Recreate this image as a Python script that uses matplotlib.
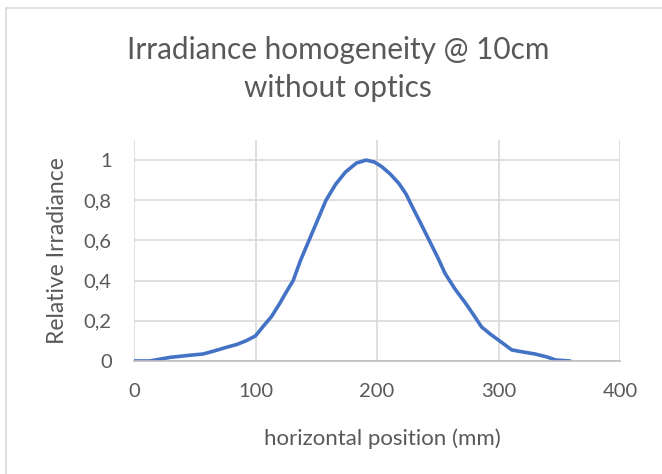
import matplotlib
matplotlib.use("Agg")
import matplotlib.pyplot as plt
from matplotlib.patches import Rectangle

# Data
position_mm = [0, 13, 29.5, 45, 57, 66, 76, 85, 92, 100, 106, 113, 120, 125, 131, 137, 144,
               151, 158, 166, 174, 183, 191, 198, 204, 211, 218, 224, 229, 236, 243, 250,
               256, 264, 273, 280, 286, 293, 300, 311, 320, 330, 340, 347, 359]
irradiance = [0, 0, 0.018, 0.028, 0.035, 0.05, 0.068, 0.083, 0.10, 0.125, 0.17, 0.22, 0.287,
              0.34, 0.40, 0.50, 0.60, 0.70, 0.80, 0.88, 0.94, 0.985, 1.0, 0.99, 0.967, 0.93,
              0.884, 0.83, 0.768, 0.685, 0.60, 0.515, 0.436, 0.36, 0.287, 0.225, 0.17, 0.135,
              0.104, 0.055, 0.045, 0.035, 0.02, 0.005, 0.0]
x_ticks = [0, 100, 200, 300, 400]
y_ticks = [0, 0.2, 0.4, 0.6, 0.8, 1.0]
y_tick_labels = ["0", "0,2", "0,4", "0,6", "0,8", "1"]

plt.rcParams['font.family'] = ['Lato', 'DejaVu Sans']
text_color = "#595959"
grid_color = "#D9D9D9"

W, H = 662, 474
fig = plt.figure(figsize=(W / 100, H / 100), dpi=100)
fig.patches.append(Rectangle((6 / W, -0.1), 1.2, 1 - 8 / H + 0.1, transform=fig.transFigure,
                             fill=False, edgecolor=grid_color, linewidth=1.2))

ax = fig.add_axes([134 / W, 1 - 361 / H, (620 - 134) / W, (361 - 140) / H])
ax.plot(position_mm, irradiance, color="#4472C4", linewidth=2.6,
        solid_capstyle='round', solid_joinstyle='round')

ax.set_xlim(0, 400)
ax.set_ylim(0, 1.1)
ax.set_xticks(x_ticks)
ax.set_xticklabels([str(t) for t in x_ticks])
ax.set_yticks(y_ticks)
ax.set_yticklabels(y_tick_labels)
ax.grid(True, color=grid_color, linewidth=1.2)
ax.set_axisbelow(True)
for side in ["top", "right", "left"]:
    ax.spines[side].set_visible(False)
ax.spines["bottom"].set_color("#BFBFBF")
ax.spines["bottom"].set_linewidth(1.2)
ax.tick_params(axis='both', length=0, labelsize=14.5, colors=text_color)
ax.tick_params(axis='x', pad=16)
ax.tick_params(axis='y', pad=16)

ax.set_xlabel("horizontal position (mm)", fontsize=16, color=text_color, labelpad=20)
ax.xaxis.label.set_x(0.512)
ax.set_ylabel("Relative Irradiance", fontsize=16.5, color=text_color, labelpad=11)

fig.text(338 / W, 1 - 50 / H, "Irradiance homogeneity @ 10cm", ha="center", va="center",
         fontsize=21.4, color=text_color)
fig.text(338 / W, 1 - 88 / H, "without optics", ha="center", va="center",
         fontsize=21.4, color=text_color)

fig.savefig("out.png", dpi=100)
